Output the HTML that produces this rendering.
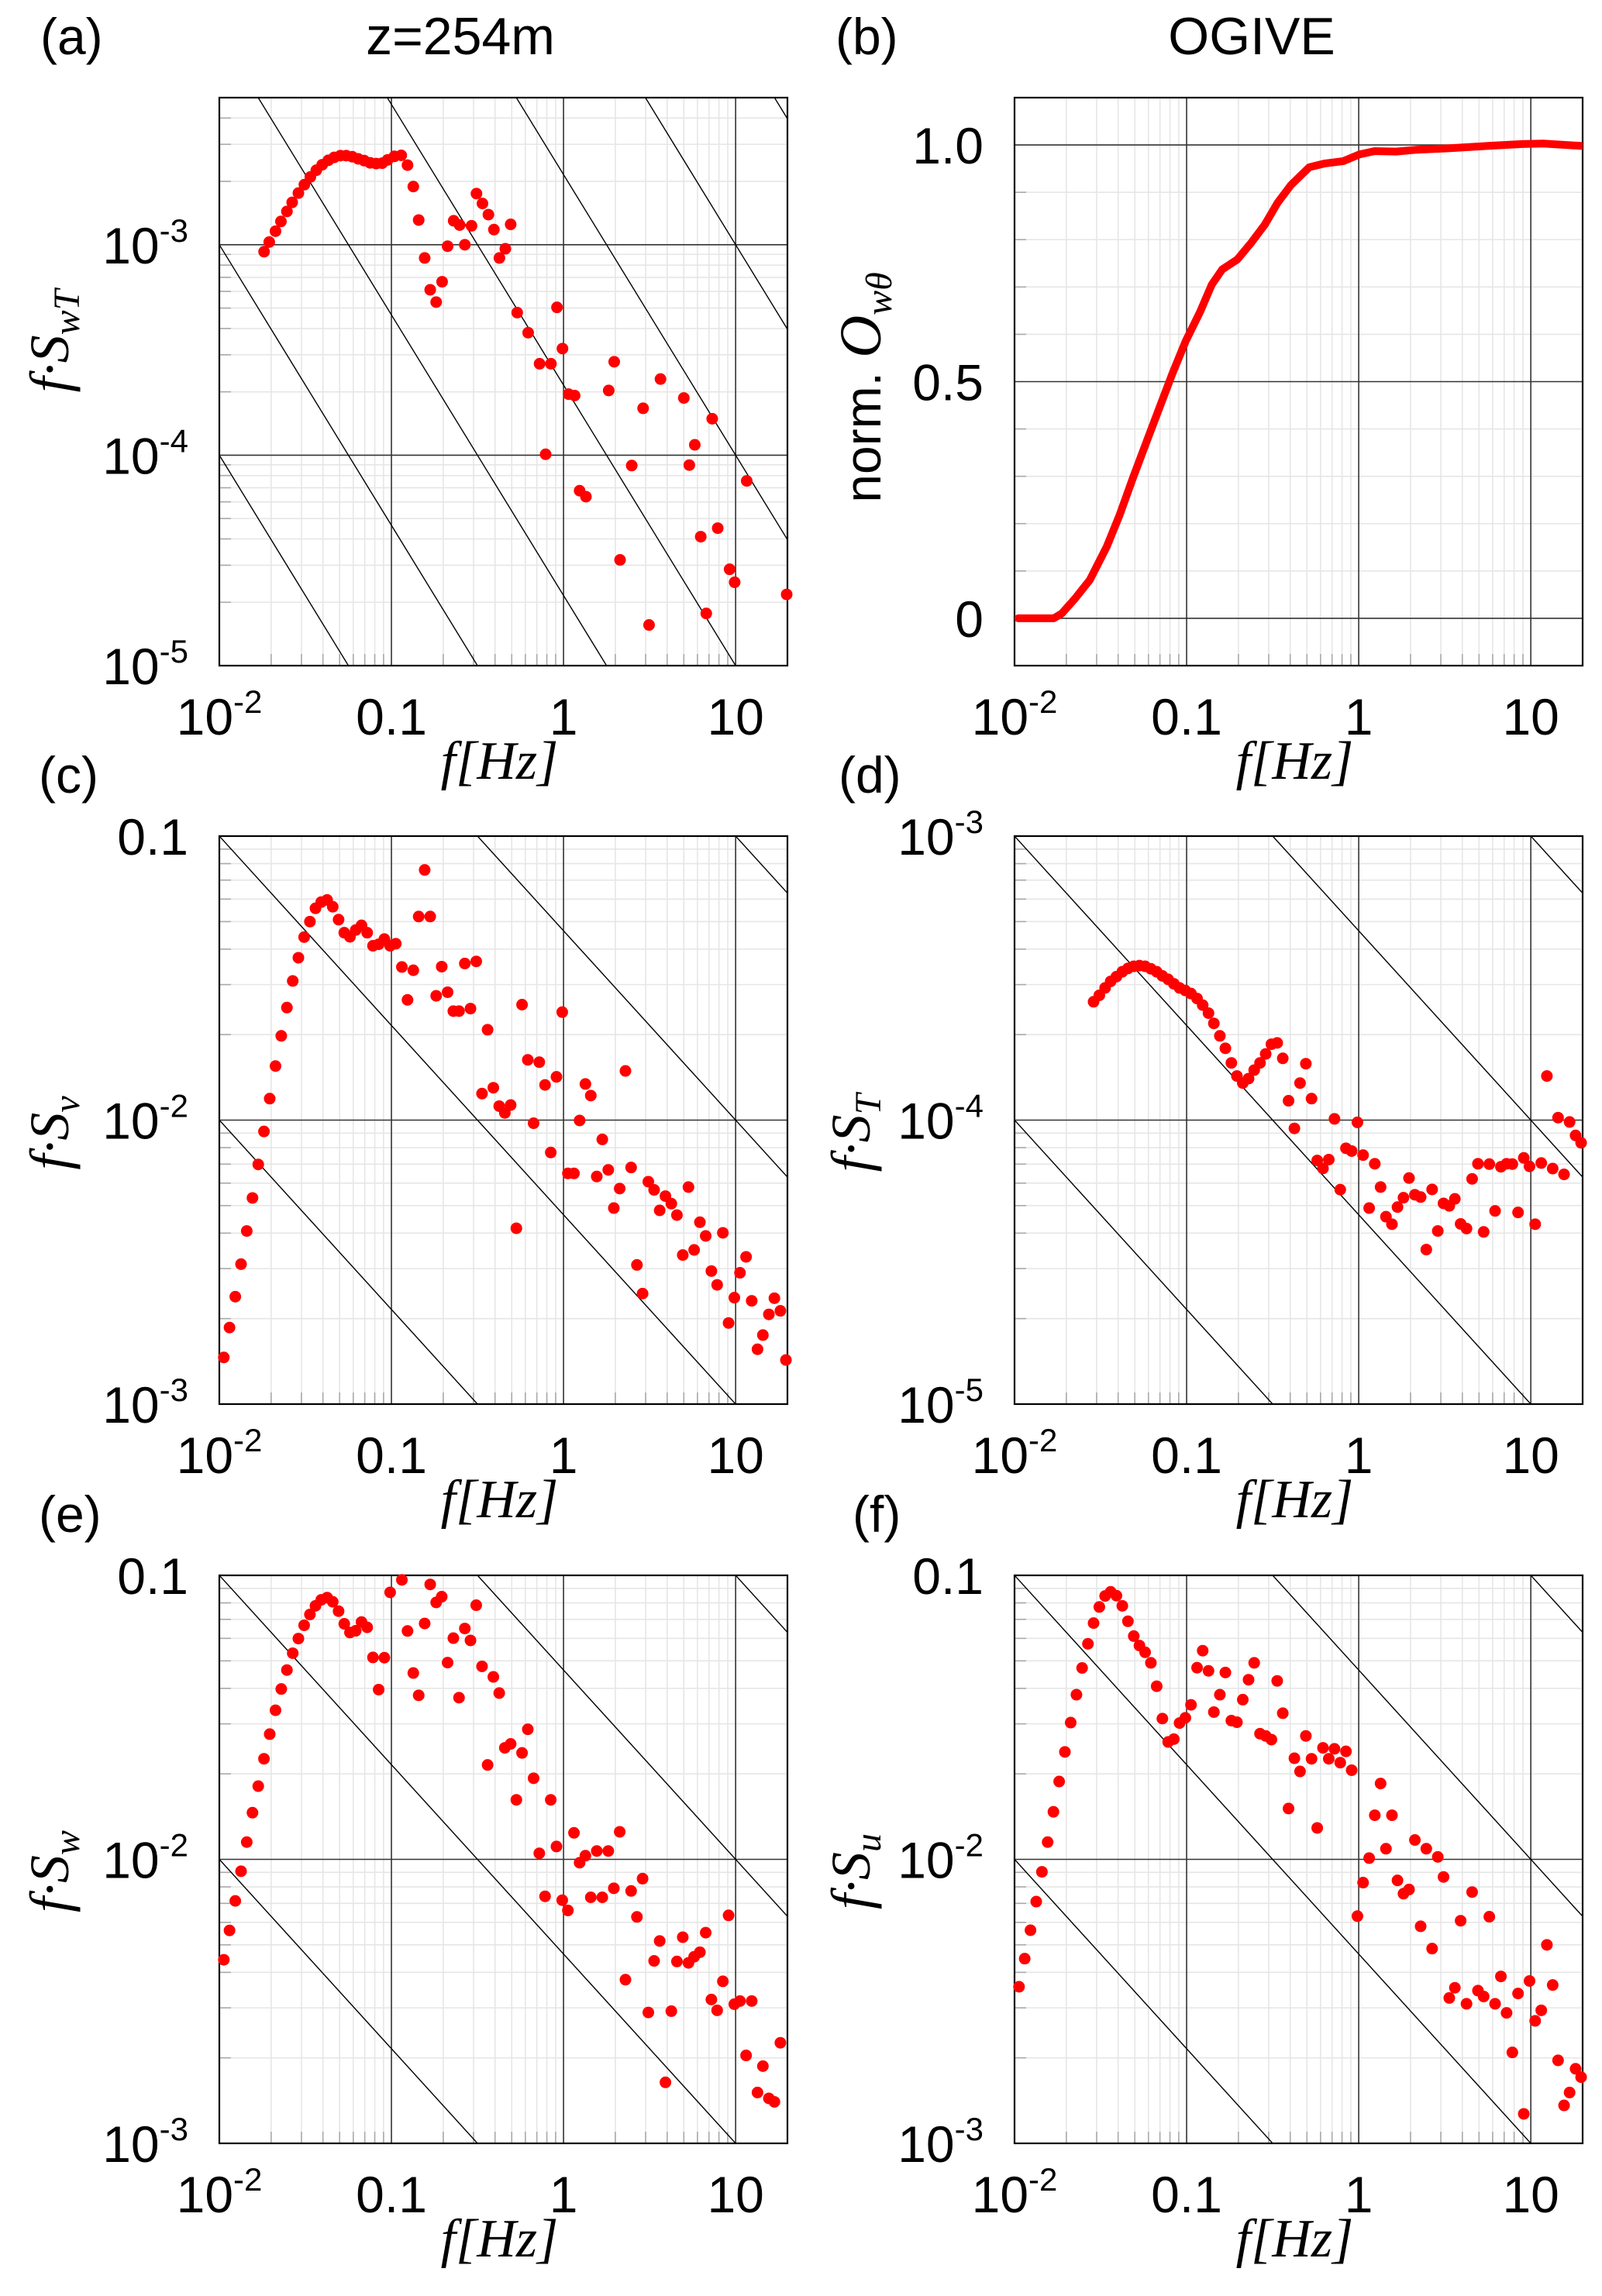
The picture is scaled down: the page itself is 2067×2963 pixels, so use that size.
<!DOCTYPE html>
<html><head><meta charset="utf-8"><title>Spectra z=254m</title>
<style>html,body{margin:0;padding:0;background:#fff;overflow:hidden}svg{display:block}</style></head>
<body>
<svg id="fig" xmlns="http://www.w3.org/2000/svg" width="2067" height="2963" viewBox="0 0 2067 2963"></svg>
<script>
// ---- shared frequency grid (Hz) ----
const F = [0.01062,0.01146,0.01238,0.01337,0.01443,0.01558,0.01683,0.01817,0.01962,0.0212,
0.0229,0.0247,0.0267,0.0288,0.0311,0.0336,0.0362,0.0391,0.0423,0.0456,
0.0493,0.0532,0.0574,0.0620,0.0670,0.0723,0.0781,0.0843,0.0910,0.0983,
0.106,0.115,0.124,0.134,0.144,0.156,0.168,0.182,0.196,0.212,
0.229,0.247,0.267,0.288,0.311,0.336,0.362,0.391,0.423,0.456,
0.493,0.532,0.574,0.620,0.670,0.723,0.781,0.843,0.910,0.983,
1.06,1.15,1.24,1.34,1.44,1.56,1.68,1.82,1.96,2.12,
2.29,2.47,2.67,2.88,3.11,3.36,3.62,3.91,4.23,4.56,
4.93,5.32,5.74,6.20,6.70,7.23,7.81,8.43,9.10,9.83,
10.6,11.5,12.4,13.4,14.4,15.6,16.8,18.2,19.6];

// ---- (a) f*S_wT ----
const FA = [0.0182,0.0195,0.0212,0.0228,0.0247,0.0265,0.0288,0.0312,0.0338,0.0366,0.0396,0.0430,0.0465,0.0505,0.0546,0.0592,0.0641,0.0695,0.0753,0.0815,0.0883,0.0950,0.104,0.114,0.124,0.134,0.144,0.156,0.168,0.182,0.197,0.212,0.230,0.249,0.267,0.292,0.312,0.338,0.366,0.394,0.424,0.459,0.493,0.538,0.623,0.726,0.787,0.845,0.916,0.986,1.07,1.16,1.24,1.35,1.83,1.97,2.13,2.49,2.90,3.14,3.66,5.00,5.38,5.79,6.27,6.75,7.31,7.87,9.23,9.87,11.6,19.8];
const SWT = [9.27e-4,1.03e-3,1.16e-3,1.29e-3,1.44e-3,1.59e-3,1.76e-3,1.93e-3,2.10e-3,2.26e-3,2.40e-3,2.52e-3,2.60e-3,2.65e-3,2.65e-3,2.62e-3,2.56e-3,2.51e-3,2.45e-3,2.43e-3,2.44e-3,2.53e-3,2.63e-3,2.66e-3,2.39e-3,1.89e-3,1.31e-3,8.65e-4,6.11e-4,5.34e-4,6.67e-4,9.84e-4,1.30e-3,1.24e-3,1.0e-3,1.23e-3,1.75e-3,1.57e-3,1.39e-3,1.18e-3,8.65e-4,9.57e-4,1.25e-3,4.76e-4,3.82e-4,2.72e-4,1.01e-4,2.72e-4,5.04e-4,3.21e-4,1.95e-4,1.92e-4,6.78e-5,6.35e-5,2.03e-4,2.78e-4,3.18e-5,8.93e-5,1.67e-4,1.56e-5,2.30e-4,1.87e-4,8.97e-5,1.12e-4,4.10e-5,1.77e-5,1.49e-4,4.50e-5,2.87e-5,2.49e-5,7.55e-5,2.18e-5];

// ---- (b) ogive ----
const FB = [0.0105,0.0169,0.0188,0.0225,0.0274,0.0343,0.0409,0.0488,0.0582,0.0694,0.0827,0.0986,0.120,0.140,0.161,0.197,0.238,0.284,0.338,0.403,0.516,0.637,0.815,1.01,1.24,1.65,2.18,3.33,5.65,8.93,11.8,19.7];
const OG = [0,0,0.010,0.042,0.081,0.151,0.219,0.297,0.371,0.444,0.517,0.585,0.648,0.705,0.737,0.758,0.794,0.831,0.878,0.915,0.953,0.961,0.966,0.980,0.987,0.986,0.990,0.993,0.998,1.002,1.003,0.998];

// ---- (c) f*S_v (F[0..98]) ----
const SV = [1.46e-3,1.86e-3,2.39e-3,3.11e-3,4.07e-3,5.32e-3,6.98e-3,9.12e-3,0.0119,0.0155,
0.0198,0.0249,0.0309,0.0373,0.0441,0.0500,0.0557,0.0586,0.0596,0.0564,
0.0508,0.0457,0.0442,0.0467,0.0485,0.0457,0.0411,0.0416,0.0434,0.0411,
0.0418,0.0346,0.0265,0.0337,0.0521,0.0760,0.0521,0.0274,0.0347,0.0282,
0.0242,0.0242,0.0356,0.0247,0.0362,0.0124,0.0208,0.0130,0.0112,0.0106,
0.0113,4.16e-3,0.0255,0.0163,9.75e-3,0.0160,0.0133,7.69e-3,0.0142,0.0240,
6.49e-3,6.49e-3,9.97e-3,0.0134,0.0122,6.33e-3,8.55e-3,6.68e-3,4.90e-3,5.74e-3,
0.0149,6.81e-3,3.09e-3,2.45e-3,6.07e-3,5.68e-3,4.81e-3,5.40e-3,5.08e-3,4.63e-3,
3.35e-3,5.81e-3,3.49e-3,4.37e-3,3.91e-3,2.94e-3,2.63e-3,4.01e-3,1.93e-3,2.37e-3,
2.90e-3,3.30e-3,2.31e-3,1.56e-3,1.75e-3,2.07e-3,2.36e-3,2.13e-3,1.43e-3];

// ---- (d) f*S_T (F[13..98]) ----
const ST_START = 13;
const ST = [2.61e-4,2.75e-4,2.92e-4,3.08e-4,3.20e-4,3.33e-4,3.42e-4,3.48e-4,3.50e-4,3.48e-4,
3.41e-4,3.33e-4,3.22e-4,3.13e-4,3.02e-4,2.92e-4,2.86e-4,2.79e-4,2.68e-4,2.54e-4,
2.38e-4,2.19e-4,1.98e-4,1.79e-4,1.59e-4,1.43e-4,1.35e-4,1.40e-4,1.50e-4,1.59e-4,
1.71e-4,1.85e-4,1.87e-4,1.65e-4,1.17e-4,9.35e-5,1.35e-4,1.58e-4,1.19e-4,7.21e-5,
6.76e-5,7.26e-5,1.01e-4,5.69e-5,7.96e-5,7.78e-5,9.82e-5,7.53e-5,4.90e-5,7.02e-5,
5.81e-5,4.57e-5,4.30e-5,4.94e-5,5.33e-5,6.25e-5,5.46e-5,5.36e-5,3.50e-5,5.70e-5,
4.07e-5,5.09e-5,4.99e-5,5.28e-5,4.31e-5,4.15e-5,6.21e-5,7.02e-5,4.04e-5,7.00e-5,
4.79e-5,6.85e-5,7.02e-5,7.00e-5,4.73e-5,7.36e-5,6.87e-5,4.30e-5,7.06e-5,1.43e-4,
6.75e-5,1.02e-4,6.44e-5,9.85e-5,8.83e-5,8.32e-5];

// ---- (e) f*S_w (F[0..97]) ----
const SW = [4.43e-3,5.62e-3,7.14e-3,9.08e-3,0.0115,0.0146,0.0181,0.0226,0.0276,0.0335,
0.0398,0.0464,0.0532,0.0599,0.0667,0.0728,0.0781,0.0820,0.0835,0.0807,
0.0748,0.0675,0.0629,0.0638,0.0685,0.0656,0.0514,0.0396,0.0513,0.0871,
null,0.0964,0.0637,0.0453,0.0378,0.0677,0.0929,0.0803,0.0841,0.0493,
0.0601,0.0371,0.0650,0.0590,0.0785,0.0478,0.0215,0.0439,0.0385,0.0247,
0.0255,0.0162,0.0237,0.0287,0.0193,0.0105,7.41e-3,0.0162,0.0111,7.18e-3,
6.61e-3,0.0124,9.73e-3,0.0103,7.35e-3,0.0107,7.35e-3,0.0107,7.91e-3,0.0125,
3.77e-3,7.74e-3,6.27e-3,8.55e-3,2.89e-3,4.39e-3,5.16e-3,1.64e-3,2.92e-3,4.37e-3,
5.32e-3,4.32e-3,4.54e-3,4.71e-3,5.52e-3,3.21e-3,2.94e-3,3.72e-3,6.35e-3,3.09e-3,
3.17e-3,2.04e-3,3.17e-3,1.51e-3,1.87e-3,1.44e-3,1.40e-3,2.26e-3];

// ---- (f) f*S_u (F[0..98]) ----
const SU = [3.56e-3,4.47e-3,5.63e-3,7.10e-3,9.04e-3,0.0115,0.0147,0.0188,0.0239,0.0303,
0.0380,0.0472,0.0574,0.0679,0.0774,0.0846,0.0875,0.0848,0.0781,0.0689,
0.0611,0.0566,0.0536,0.0492,0.0407,0.0313,0.0259,0.0265,0.0302,0.0315,
0.0350,0.0473,0.0543,0.0461,0.0330,0.0380,0.0455,0.0308,0.0304,0.0365,
0.0429,0.0492,0.0277,0.0272,0.0264,0.0425,0.0327,0.0151,0.0227,0.0204,
0.0272,0.0226,0.0129,0.0247,0.0226,0.0245,0.0219,0.0240,0.0206,6.31e-3,
8.28e-3,0.0101,0.0143,0.0185,0.0109,0.0143,8.43e-3,7.57e-3,7.83e-3,0.0117,
5.81e-3,0.0109,4.85e-3,0.0102,8.67e-3,3.25e-3,3.53e-3,6.08e-3,3.10e-3,7.67e-3,
3.45e-3,3.29e-3,6.28e-3,3.10e-3,3.87e-3,2.88e-3,2.09e-3,3.37e-3,1.27e-3,3.73e-3,
2.70e-3,2.94e-3,5.00e-3,3.61e-3,1.96e-3,1.36e-3,1.51e-3,1.83e-3,1.71e-3];

// tick labels
const X_TICKS = [0.01,0.1,1,10];
const X_TICK_LABELS = [["10","-2"],["0.1",""],["1",""],["10",""]];
const Y_TICKS_A = [1e-5,1e-4,1e-3];
const Y_TICKS_D = [1e-5,1e-4,1e-3];
const Y_TICKS_CEF = [1e-3,1e-2,0.1];
const Y_TICKS_B = [0,0.5,1.0];
const Y_TICK_LABELS_B = ["0","0.5","1.0"];

const NS = "http://www.w3.org/2000/svg";
const svg = document.getElementById('fig');
function el(tag, attrs, parent){
  const e = document.createElementNS(NS, tag);
  for (const k in attrs) e.setAttribute(k, attrs[k]);
  (parent||svg).appendChild(e);
  return e;
}
const L10 = Math.log10;
const XMIN = 0.01, XMAX = 20, W = 733, H = 733;
const SANS = '"Liberation Sans", "DejaVu Sans", sans-serif';
const SERIF = '"Liberation Serif", "DejaVu Serif", serif';
const TF = 66, SF = 42, SDY = -28;

function makePanel(cfg){
  const g = el('g', {});
  
  
  const x0 = cfg.x0, y0 = cfg.y0;
  const xs = f => x0 + (L10(f) - L10(XMIN)) / (L10(XMAX) - L10(XMIN)) * W;
  const ys = cfg.log
    ? v => y0 + (L10(cfg.ymax) - L10(v)) / (L10(cfg.ymax) - L10(cfg.ymin)) * H
    : v => y0 + (cfg.ymax - v) / (cfg.ymax - cfg.ymin) * H;
  const cp = el('clipPath', {id: 'clip-' + cfg.id}, g);
  el('rect', {x: x0, y: y0, width: W, height: H}, cp);
  const grid = el('g', {'clip-path': 'url(#clip-' + cfg.id + ')'}, g);
  
  
  for (let d = -2; d <= 1; d++) for (let k = 2; k <= 9; k++) {
    const f = k * Math.pow(10, d); if (f >= XMAX) continue;
    const x = xs(f);
    el('line', {x1: x, x2: x, y1: y0, y2: y0 + H, stroke: '#e6e6e6', 'stroke-width': 1.6}, grid);
    el('line', {x1: x, x2: x, y1: y0 + H, y2: y0 + H - 15, stroke: '#aaa', 'stroke-width': 1.6}, grid);
  }
  if (cfg.log) {
    for (let d = Math.floor(L10(cfg.ymin)); d <= Math.ceil(L10(cfg.ymax)); d++) for (let k = 2; k <= 9; k++) {
      const v = k * Math.pow(10, d); if (v <= cfg.ymin || v >= cfg.ymax) continue;
      const y = ys(v);
      el('line', {x1: x0, x2: x0 + W, y1: y, y2: y, stroke: '#e6e6e6', 'stroke-width': 1.6}, grid);
      el('line', {x1: x0, x2: x0 + 15, y1: y, y2: y, stroke: '#aaa', 'stroke-width': 1.6}, grid);
    }
  } else {
    for (let i = -1; i <= 11; i++) {
      const v = i / 10; if (i % 5 === 0) continue;
      const y = ys(v);
      el('line', {x1: x0, x2: x0 + W, y1: y, y2: y, stroke: '#e6e6e6', 'stroke-width': 1.6}, grid);
      el('line', {x1: x0, x2: x0 + 15, y1: y, y2: y, stroke: '#aaa', 'stroke-width': 1.6}, grid);
    }
  }
  [0.1, 1, 10].forEach(f => {
    const x = xs(f);
    el('line', {x1: x, x2: x, y1: y0, y2: y0 + H, stroke: '#333', 'stroke-width': 1.6}, grid);
  });
  cfg.yticks.forEach(v => {
    const y = ys(v);
    el('line', {x1: x0, x2: x0 + W, y1: y, y2: y, stroke: '#333', 'stroke-width': 1.6}, grid);
  });
  if (cfg.slope) {
    const rl = el('g', {'clip-path': 'url(#clip-' + cfg.id + ')'}, g);
    
    
    for (let m = -9; m <= 3; m++) {
      const yA = Math.pow(10, m) * Math.pow(XMIN / 10, cfg.slope);
      const yB = Math.pow(10, m) * Math.pow(XMAX / 10, cfg.slope);
      el('line', {x1: xs(XMIN), y1: ys(yA), x2: xs(XMAX), y2: ys(yB), stroke: '#000', 'stroke-width': 1.4}, rl);
    }
  }
  const fr = el('rect', {x: x0, y: y0, width: W, height: H, fill: 'none', stroke: '#000', 'stroke-width': 2.2}, g);
  
  
  X_TICKS.forEach((f, i) => {
    const t = el('text', {x: xs(f), y: y0 + H + 89, 'text-anchor': 'middle', 'font-family': SANS, 'font-size': TF, fill: '#000'}, g);
    
    
    t.appendChild(document.createTextNode(X_TICK_LABELS[i][0]));
    if (X_TICK_LABELS[i][1]) {
      const s = el('tspan', {dy: SDY, 'font-size': SF}, t);
      s.textContent = X_TICK_LABELS[i][1];
    }
  });
  cfg.yticks.forEach((v, i) => {
    const t = el('text', {x: x0 - 40, y: ys(v) + 24, 'text-anchor': 'end', 'font-family': SANS, 'font-size': TF, fill: '#000'}, g);
    
    
    if (cfg.log) {
      const e = Math.round(L10(v));
      if (e === -1) t.textContent = "0.1";
      else {
        t.appendChild(document.createTextNode("10"));
        const s = el('tspan', {dy: SDY, 'font-size': SF}, t);
        s.textContent = String(e);
      }
    } else {
      t.textContent = cfg.yticklabels[i];
    }
  });
  const xt = el('text', {x: x0 + W / 2 - 5, y: y0 + H + 146, 'text-anchor': 'middle', 'font-family': SERIF, 'font-style': 'italic', 'font-size': 70, fill: '#000'}, g);
  
  
  xt.textContent = 'f[Hz]';
  const pl = el('text', {x: cfg.lx, y: y0 - 56, 'font-family': SANS, 'font-size': 66, fill: '#000'}, g);
  
  
  pl.textContent = '(' + cfg.id + ')';
  return {g, xs, ys};
}

function yTitle(g, cx, cy, sub, name){
  const t = el('text', {transform: 'translate(' + cx + ',' + cy + ') rotate(-90)', 'text-anchor': 'middle', 'font-family': SERIF, 'font-style': 'italic', 'font-size': 72, fill: '#000'}, g);
  
  
  const a = el('tspan', {}, t); a.textContent = 'f·S';
  const b = el('tspan', {dy: 14, 'font-size': 48}, t); b.textContent = sub;
}

function dots(g, xs, ys, fx, vals, start, name){
  const dg = el('g', {fill: '#ff0000'}, g);
  
  
  vals.forEach((v, i) => {
    if (v === null) return;
    const f = fx[start + i];
    const c = el('circle', {cx: xs(f), cy: ys(v), r: 7.5}, dg);
    
    
  });
}

const LX = 283, RX = 1309, T1 = 126, T2 = 1079, T3 = 2033;

let p = makePanel({id: 'a', x0: LX, y0: T1, log: true, ymin: 1e-5, ymax: 5e-3, yticks: Y_TICKS_A, slope: -4/3, lx: 52});
yTitle(p.g, 88, 440, 'wT', 'y-axis-title-a');
dots(p.g, p.xs, p.ys, FA, SWT, 0, 'series-fSwT');
const t1 = el('text', {x: 594, y: 70, 'text-anchor': 'middle', 'font-family': SANS, 'font-size': 68, fill: '#000'});


t1.textContent = 'z=254m';

p = makePanel({id: 'b', x0: RX, y0: T1, log: false, ymin: -0.1, ymax: 1.1, yticks: Y_TICKS_B, yticklabels: Y_TICK_LABELS_B, slope: 0, lx: 1078});
{
  const d = FB.map((f, i) => (i ? 'L' : 'M') + p.xs(f).toFixed(1) + ',' + p.ys(OG[i]).toFixed(1)).join(' ');
  const path = el('path', {d: d, fill: 'none', stroke: '#ff0000', 'stroke-width': 10, 'stroke-linejoin': 'round', 'stroke-linecap': 'round', 'clip-path': 'url(#clip-b)'}, p.g);
  
  
  const t = el('text', {transform: 'translate(1136,500) rotate(-90)', 'text-anchor': 'middle', 'font-family': SANS, 'font-size': 66, fill: '#000'}, p.g);
  
  
  const a = el('tspan', {}, t); a.textContent = 'norm. ';
  const b = el('tspan', {'font-family': SERIF, 'font-style': 'italic', 'font-size': 76}, t); b.textContent = 'O';
  const c = el('tspan', {dy: 14, 'font-family': SERIF, 'font-style': 'italic', 'font-size': 48}, t); c.textContent = 'wθ';
}
const t2 = el('text', {x: 1615, y: 70, 'text-anchor': 'middle', 'font-family': SANS, 'font-size': 68, fill: '#000'});


t2.textContent = 'OGIVE';

p = makePanel({id: 'c', x0: LX, y0: T2, log: true, ymin: 1e-3, ymax: 0.1, yticks: Y_TICKS_CEF, slope: -2/3, lx: 50});
yTitle(p.g, 88, 1462, 'v', 'y-axis-title-c');
dots(p.g, p.xs, p.ys, F, SV, 0, 'series-fSv');

p = makePanel({id: 'd', x0: RX, y0: T2, log: true, ymin: 1e-5, ymax: 1e-3, yticks: Y_TICKS_D, slope: -2/3, lx: 1082});
yTitle(p.g, 1122, 1462, 'T', 'y-axis-title-d');
dots(p.g, p.xs, p.ys, F, ST, ST_START, 'series-fST');

p = makePanel({id: 'e', x0: LX, y0: T3, log: true, ymin: 1e-3, ymax: 0.1, yticks: Y_TICKS_CEF, slope: -2/3, lx: 50});
yTitle(p.g, 88, 2415, 'w', 'y-axis-title-e');
dots(p.g, p.xs, p.ys, F, SW, 0, 'series-fSw');

p = makePanel({id: 'f', x0: RX, y0: T3, log: true, ymin: 1e-3, ymax: 0.1, yticks: Y_TICKS_CEF, slope: -2/3, lx: 1100});
yTitle(p.g, 1122, 2415, 'u', 'y-axis-title-f');
dots(p.g, p.xs, p.ys, F, SU, 0, 'series-fSu');
</script>
</body></html>
